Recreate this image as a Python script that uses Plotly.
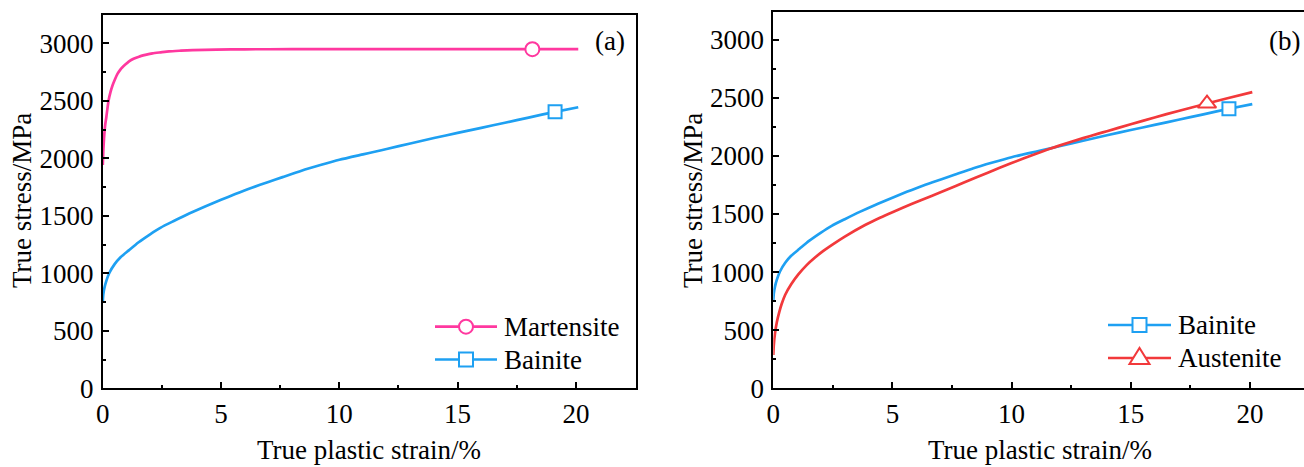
import plotly.graph_objects as go

# True plastic strain (%) and true stress (MPa) for each phase
martensite_strain = [0, 0.02, 0.05, 0.1, 0.15, 0.24, 0.33, 0.41, 0.52, 0.62, 0.75, 0.83, 1.0, 1.11,
                     1.3, 1.53, 1.8, 2.1, 2.45, 2.8, 3.3, 3.8, 4.8, 6, 8, 10, 12, 14, 16, 18, 20.1]
martensite_stress = [1942, 2060, 2170, 2290, 2360, 2500, 2580, 2634, 2690, 2735, 2775, 2793, 2825, 2844,
                     2866, 2885, 2900, 2914, 2923, 2931, 2937, 2942, 2947, 2949, 2950, 2950, 2950, 2950,
                     2950, 2950, 2950]

bainite_strain = [0, 0.02, 0.07, 0.15, 0.28, 0.5, 0.75, 1.1, 1.5, 2.0, 2.45, 3.0, 3.65, 4.3, 5.0, 5.6,
                  6.3, 7.0, 7.6, 8.4, 9.2, 10, 11, 11.54, 12, 13, 14, 15, 16, 17, 18, 19.12, 20.1]
bainite_stress = [755, 815, 875, 935, 1005, 1080, 1140, 1200, 1268, 1340, 1398, 1455, 1520, 1580, 1640,
                  1690, 1745, 1795, 1837, 1893, 1942, 1988, 2035, 2060, 2082, 2130, 2177, 2222, 2266,
                  2310, 2355, 2405, 2445]

austenite_strain = [0, 0.02, 0.07, 0.15, 0.25, 0.35, 0.5, 0.75, 1.05, 1.4, 1.75, 2.1, 2.45, 3.0, 3.85,
                    4.5, 5.0, 5.8, 6.64, 7.3, 8.0, 9.0, 10, 11, 11.54, 12, 13, 13.64, 14, 15, 16, 17,
                    18.2, 19.1, 20.1]
austenite_stress = [286, 370, 470, 570, 655, 725, 805, 895, 980, 1060, 1125, 1182, 1232, 1305, 1405,
                    1470, 1515, 1585, 1655, 1710, 1770, 1855, 1938, 2016, 2056, 2088, 2152, 2191, 2212,
                    2272, 2330, 2386, 2450, 2498, 2548]

# Single symbol placed on each curve
martensite_mark = (18.16, 2950)
bainite_mark = (19.12, 2405)
austenite_mark = (18.2, 2450)

PINK = "#FF389F"
BLUE = "#1EA0F2"
RED = "#F2393B"
FONT = "Liberation Serif"
FS = 27
W, H = 1304, 467

fig = go.Figure()


def curve(x, y, color, xa, ya):
    fig.add_trace(go.Scatter(x=x, y=y, mode="lines",
                             line=dict(color=color, width=2.7, shape="spline", smoothing=0.6),
                             xaxis=xa, yaxis=ya, showlegend=False, hoverinfo="skip"))


def mark(pt, color, symbol, size, xa, ya):
    fig.add_trace(go.Scatter(x=[pt[0]], y=[pt[1]], mode="markers",
                             marker=dict(symbol=symbol, size=size, color="white",
                                         line=dict(color=color, width=2)),
                             xaxis=xa, yaxis=ya, showlegend=False, hoverinfo="skip"))


# panel (a)
curve(martensite_strain, martensite_stress, PINK, "x", "y")
curve(bainite_strain, bainite_stress, BLUE, "x", "y")
mark(martensite_mark, PINK, "circle", 14, "x", "y")
mark(bainite_mark, BLUE, "square", 13, "x", "y")

# panel (b)
curve(bainite_strain, bainite_stress, BLUE, "x2", "y2")
curve(austenite_strain, austenite_stress, RED, "x2", "y2")
mark(austenite_mark, RED, "triangle-up", 16, "x2", "y2")
mark(bainite_mark, BLUE, "square", 13, "x2", "y2")


def px(x):
    return x / W


def py(y):
    return 1 - y / H


common_x = dict(dtick=5, tick0=0, ticks="inside", ticklen=6, tickwidth=2, tickcolor="black",
                showline=True, linewidth=2, linecolor="black", mirror=True, showgrid=False,
                zeroline=False, automargin=False, tickfont=dict(family=FONT, size=FS, color="black"),
                minor=dict(dtick=2.5, ticks="inside", ticklen=3, tickwidth=2, tickcolor="black"))
common_y = dict(dtick=500, tick0=0, ticks="inside", ticklen=6, tickwidth=2, tickcolor="black",
                showline=True, linewidth=2, linecolor="black", showgrid=False, zeroline=False,
                automargin=False, ticklabelstandoff=2,
                tickfont=dict(family=FONT, size=FS, color="black"),
                minor=dict(dtick=250, ticks="inside", ticklen=3, tickwidth=2, tickcolor="black"))

fig.update_layout(
    width=W, height=H, margin=dict(l=0, r=0, t=0, b=0, autoexpand=False),
    paper_bgcolor="white", plot_bgcolor="white", showlegend=False,
    xaxis=dict(common_x, domain=[px(102.8), px(635.5)], range=[0, 22.52], anchor="y"),
    yaxis=dict(common_y, domain=[py(388.3), py(14.7)], range=[0, 3250], anchor="x", mirror=True),
    xaxis2=dict(common_x, domain=[px(773.3), 1.0], range=[0, 22.27], anchor="y2"),
    yaxis2=dict(common_y, domain=[py(388.3), py(11.7)], range=[0, 3240], anchor="x2", mirror=False),
)

ann = []
shapes = []


def text(x, y, s, anchor="center", angle=0):
    ann.append(dict(x=px(x), y=py(y), xref="paper", yref="paper", text=s, showarrow=False,
                    xanchor=anchor, yanchor="middle", textangle=angle,
                    font=dict(family=FONT, size=FS, color="black")))


# axis titles and panel labels
text(369, 450, "True plastic strain/%")
text(1040, 450, "True plastic strain/%")
text(22, 201, "True stress/MPa", angle=-90)
text(693, 201, "True stress/MPa", angle=-90)
text(609.5, 41, "(a)")
text(1284, 41, "(b)")


def legend_row(x0, x1, y, color, kind, label):
    shapes.append(dict(type="line", xref="paper", yref="paper", x0=px(x0), x1=px(x1),
                       y0=py(y), y1=py(y), line=dict(color=color, width=2.7)))
    cx = (x0 + x1) / 2
    base = dict(xref="paper", yref="paper", xsizemode="pixel", ysizemode="pixel",
                xanchor=px(cx), yanchor=py(y), line=dict(color=color, width=2), fillcolor="white")
    if kind == "circle":
        shapes.append(dict(base, type="circle", x0=-7, x1=7, y0=-7, y1=7))
    elif kind == "square":
        shapes.append(dict(base, type="rect", x0=-7, x1=7, y0=-7, y1=7))
    else:
        shapes.append(dict(base, type="path", path="M -10 -6 L 10 -6 L 0 10 Z"))
    text(x1 + 5, y, label, anchor="left")


legend_row(435, 497, 326.7, PINK, "circle", "Martensite")
legend_row(435, 497, 359.5, BLUE, "square", "Bainite")
legend_row(1108, 1171, 325, BLUE, "square", "Bainite")
legend_row(1108, 1171, 358, RED, "triangle", "Austenite")

fig.update_layout(annotations=ann, shapes=shapes)
fig.write_html("out.html")
